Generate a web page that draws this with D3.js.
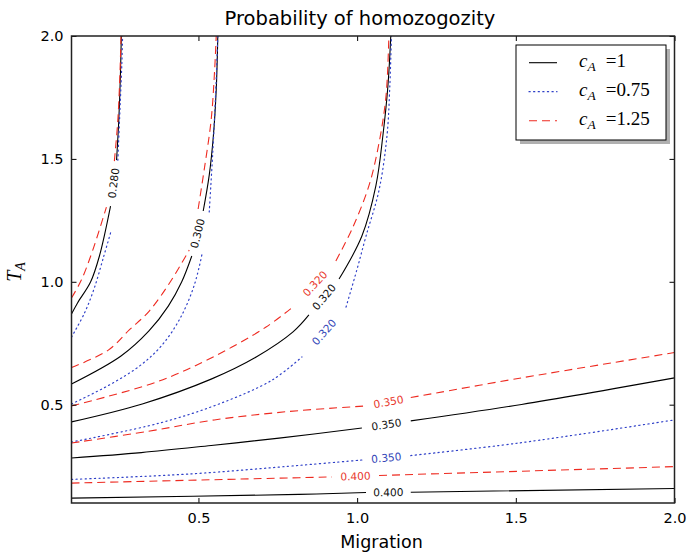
<!DOCTYPE html>
<html>
<head>
<meta charset="utf-8">
<script src="https://cdn.jsdelivr.net/npm/d3@7"></script>
<style>
  body { margin: 0; background: #fff; }
  svg { display: block; }
</style>
</head>
<body>
<svg id="chart" width="687" height="557"></svg>
<script>
// contour lines, [migration, T_A]; null = gap left for the inline label
const c1Lines = [
  { level: 0.28, label: true, pts: [[0.1, 0.869], [0.119, 0.914], [0.160, 0.999], [0.188, 1.105], [0.223, 1.308], null, [0.242, 1.495], [0.249, 1.658], [0.254, 1.837], [0.257, 2.0]] },
  { level: 0.30, label: true, pts: [[0.1, 0.584], [0.256, 0.698], [0.344, 0.800], [0.405, 0.901], [0.447, 0.999], [0.479, 1.105], null, [0.515, 1.288], [0.534, 1.434], [0.547, 1.593], [0.556, 1.780], [0.561, 2.0]] },
  { level: 0.32, label: true, pts: [[0.1, 0.430], [0.323, 0.503], [0.540, 0.604], [0.682, 0.694], [0.798, 0.796], [0.848, 0.865], null, [0.943, 1.011], [1.015, 1.186], [1.059, 1.390], [1.081, 1.593], [1.097, 1.797], [1.106, 2.0]] },
  { level: 0.35, label: true, pts: [[0.1, 0.283], [0.320, 0.305], [0.540, 0.334], [0.754, 0.364], [1.015, 0.405], null, [1.169, 0.434], [1.518, 0.501], [2.0, 0.609]] },
  { level: 0.40, label: true, pts: [[0.1, 0.120], [0.817, 0.135], [1.028, 0.143], null, [1.169, 0.144], [2.0, 0.159]] }
];

const c075Lines = [
  { level: 0.28, label: false, pts: [[0.1, 0.775], [0.141, 0.873], [0.172, 0.975], [0.201, 1.101], [0.224, 1.203], null, [0.246, 1.495], [0.254, 1.740], [0.259, 1.902], [0.261, 2.0]] },
  { level: 0.30, label: false, pts: [[0.1, 0.503], [0.219, 0.580], [0.314, 0.657], [0.383, 0.739], [0.443, 0.853], [0.487, 0.987], [0.512, 1.117], null, [0.534, 1.284], [0.545, 1.524], [0.554, 1.760], [0.561, 2.0]] },
  { level: 0.32, label: true, pts: [[0.1, 0.348], [0.377, 0.425], [0.565, 0.503], [0.732, 0.600], [0.826, 0.694], null, [0.965, 0.897], [0.999, 1.048], [1.028, 1.186], [1.069, 1.373], [1.094, 1.593], [1.103, 1.797], [1.108, 2.0]] },
  { level: 0.35, label: true, pts: [[0.1, 0.196], [0.471, 0.218], [0.817, 0.253], [1.015, 0.275], null, [1.169, 0.293], [1.509, 0.344], [2.0, 0.438]] }
];

const c125Lines = [
  { level: 0.28, label: false, pts: [[0.1, 0.934], [0.131, 1.007], [0.166, 1.125], [0.210, 1.304], null, [0.235, 1.491], [0.246, 1.658], [0.253, 1.862], [0.256, 2.0]] },
  { level: 0.30, label: false, pts: [[0.1, 0.651], [0.216, 0.722], [0.282, 0.804], [0.345, 0.881], [0.411, 0.999], [0.471, 1.129], null, [0.499, 1.296], [0.518, 1.455], [0.540, 1.658], [0.551, 1.862], [0.556, 2.0]] },
  { level: 0.32, label: true, pts: [[0.1, 0.495], [0.367, 0.592], [0.540, 0.690], [0.713, 0.816], [0.801, 0.901], null, [0.933, 1.085], [0.984, 1.215], [1.037, 1.390], [1.069, 1.565], [1.091, 1.756], [1.100, 2.0]] },
  { level: 0.35, label: true, pts: [[0.1, 0.344], [0.339, 0.391], [0.550, 0.438], [0.782, 0.472], [1.028, 0.495], null, [1.169, 0.529], [1.518, 0.609], [2.0, 0.712]] },
  { level: 0.40, label: true, pts: [[0.1, 0.181], [0.817, 0.203], [0.921, 0.206], null, [1.069, 0.212], [2.0, 0.248]] }
];

const xTicks = [0.5, 1.0, 1.5, 2.0];
const yTicks = [0.5, 1.0, 1.5, 2.0];
const legendLabels = ["1", "0.75", "1.25"];

const series = [
  { lines: c1Lines, color: "#000000", text: "#111111", dash: null, width: 1.1 },
  { lines: c075Lines, color: "#2f40c8", text: "#3446b8", dash: "1.2,3.4", width: 1.2 },
  { lines: c125Lines, color: "#ee2a20", text: "#e8372c", dash: "8,5", width: 1.1 }
];

const plotLeft = 71.5, plotRight = 674.5, plotTop = 36, plotBottom = 503;

const svg = d3.select("#chart");
const x = d3.scaleLinear().domain([0.1, 2.0]).range([plotLeft, plotRight]);
const y = d3.scaleLinear().domain([0.1, 2.0]).range([plotBottom, plotTop]);

svg.append("defs")
  .append("clipPath")
  .attr("id", "plot-clip")
  .append("rect")
  .attr("x", plotLeft)
  .attr("y", plotTop)
  .attr("width", plotRight - plotLeft)
  .attr("height", plotBottom - plotTop);

const plot = svg.append("g").attr("clip-path", "url(#plot-clip)");

const line = d3.line()
  .defined(d => d !== null)
  .x(d => x(d[0]))
  .y(d => y(d[1]))
  .curve(d3.curveCatmullRom.alpha(0.5));

series.forEach((s, i) => {
  plot.append("g")
    .selectAll("path")
    .data(s.lines)
    .join("path")
    .attr("d", d => line(d.pts))
    .attr("fill", "none")
    .attr("stroke", s.color)
    .attr("stroke-width", s.width)
    .attr("stroke-dasharray", s.dash)
    .attr("stroke-linecap", i === 1 ? "round" : "butt");
});

// inline contour labels sit in the gap of each line
function labelPlace(pts) {
  const i = pts.indexOf(null);
  const a = pts[i - 1], b = pts[i + 1];
  const ax = x(a[0]), ay = y(a[1]), bx = x(b[0]), by = y(b[1]);
  let ang = Math.atan2(by - ay, bx - ax) * 180 / Math.PI;
  if (ang > 90) ang -= 180;
  if (ang < -90) ang += 180;
  return { cx: (ax + bx) / 2, cy: (ay + by) / 2, ang };
}

series.forEach(s => {
  svg.append("g")
    .selectAll("text")
    .data(s.lines.filter(d => d.label))
    .join("text")
    .attr("transform", d => {
      const p = labelPlace(d.pts);
      return `translate(${p.cx},${p.cy}) rotate(${p.ang})`;
    })
    .attr("text-anchor", "middle")
    .attr("dy", "0.36em")
    .attr("font-family", "DejaVu Sans")
    .attr("font-size", 10.6)
    .attr("fill", s.text)
    .text(d => d.level.toFixed(3));
});

// axes, ticks pointing inward on all four sides
const tickFont = g => g.selectAll("text")
  .attr("font-family", "DejaVu Sans")
  .attr("font-size", 14.5)
  .attr("fill", "#000");

svg.append("g")
  .attr("transform", `translate(0,${plotBottom})`)
  .call(d3.axisBottom(x).tickValues(xTicks).tickSize(-5).tickPadding(10).tickFormat(d3.format(".1f")))
  .call(g => g.select(".domain").remove())
  .call(tickFont);

svg.append("g")
  .attr("transform", `translate(0,${plotTop})`)
  .call(d3.axisTop(x).tickValues(xTicks).tickSize(-5).tickFormat(""))
  .call(g => g.select(".domain").remove());

svg.append("g")
  .attr("transform", `translate(${plotLeft},0)`)
  .call(d3.axisLeft(y).tickValues(yTicks).tickSize(-5).tickPadding(8).tickFormat(d3.format(".1f")))
  .call(g => g.select(".domain").remove())
  .call(tickFont);

svg.append("g")
  .attr("transform", `translate(${plotRight},0)`)
  .call(d3.axisRight(y).tickValues(yTicks).tickSize(-5).tickFormat(""))
  .call(g => g.select(".domain").remove());

svg.append("rect")
  .attr("x", plotLeft)
  .attr("y", plotTop)
  .attr("width", plotRight - plotLeft)
  .attr("height", plotBottom - plotTop)
  .attr("fill", "none")
  .attr("stroke", "#222")
  .attr("stroke-width", 1.5);

svg.append("text")
  .attr("x", 360)
  .attr("y", 25)
  .attr("text-anchor", "middle")
  .attr("font-family", "DejaVu Sans")
  .attr("font-size", 19.5)
  .text("Probability of homozogozity");

svg.append("text")
  .attr("x", 381.5)
  .attr("y", 548)
  .attr("text-anchor", "middle")
  .attr("font-family", "DejaVu Sans")
  .attr("font-size", 17.5)
  .text("Migration");

const yLab = svg.append("text")
  .attr("transform", "translate(21,272) rotate(-90)")
  .attr("text-anchor", "middle")
  .attr("font-family", "Liberation Serif")
  .attr("font-style", "italic")
  .attr("font-size", 20);
yLab.append("tspan").text("T");
yLab.append("tspan").attr("font-size", 14).attr("dy", 4).text("A");

// legend
const legend = svg.append("g");
legend.append("rect")
  .attr("x", 520).attr("y", 49).attr("width", 150).attr("height", 95)
  .attr("fill", "#b0b0b0");
legend.append("rect")
  .attr("x", 516).attr("y", 45).attr("width", 150).attr("height", 95)
  .attr("fill", "#fff").attr("stroke", "#000").attr("stroke-width", 1);

series.forEach((s, i) => {
  const ly = 62.7 + i * 29;
  legend.append("line")
    .attr("x1", 529).attr("x2", 557).attr("y1", ly).attr("y2", ly)
    .attr("stroke", s.color)
    .attr("stroke-width", s.width)
    .attr("stroke-dasharray", s.dash)
    .attr("stroke-linecap", i === 1 ? "round" : "butt");
  const t = legend.append("text")
    .attr("x", 579).attr("y", ly + 4.6)
    .attr("font-family", "Liberation Serif")
    .attr("font-size", 19);
  t.append("tspan").attr("font-style", "italic").text("c");
  t.append("tspan").attr("font-style", "italic").attr("font-size", 13.5).attr("dy", 4).text("A");
  t.append("tspan").attr("dy", -4).attr("dx", 10).text("=" + legendLabels[i]);
});
</script>
</body>
</html>
